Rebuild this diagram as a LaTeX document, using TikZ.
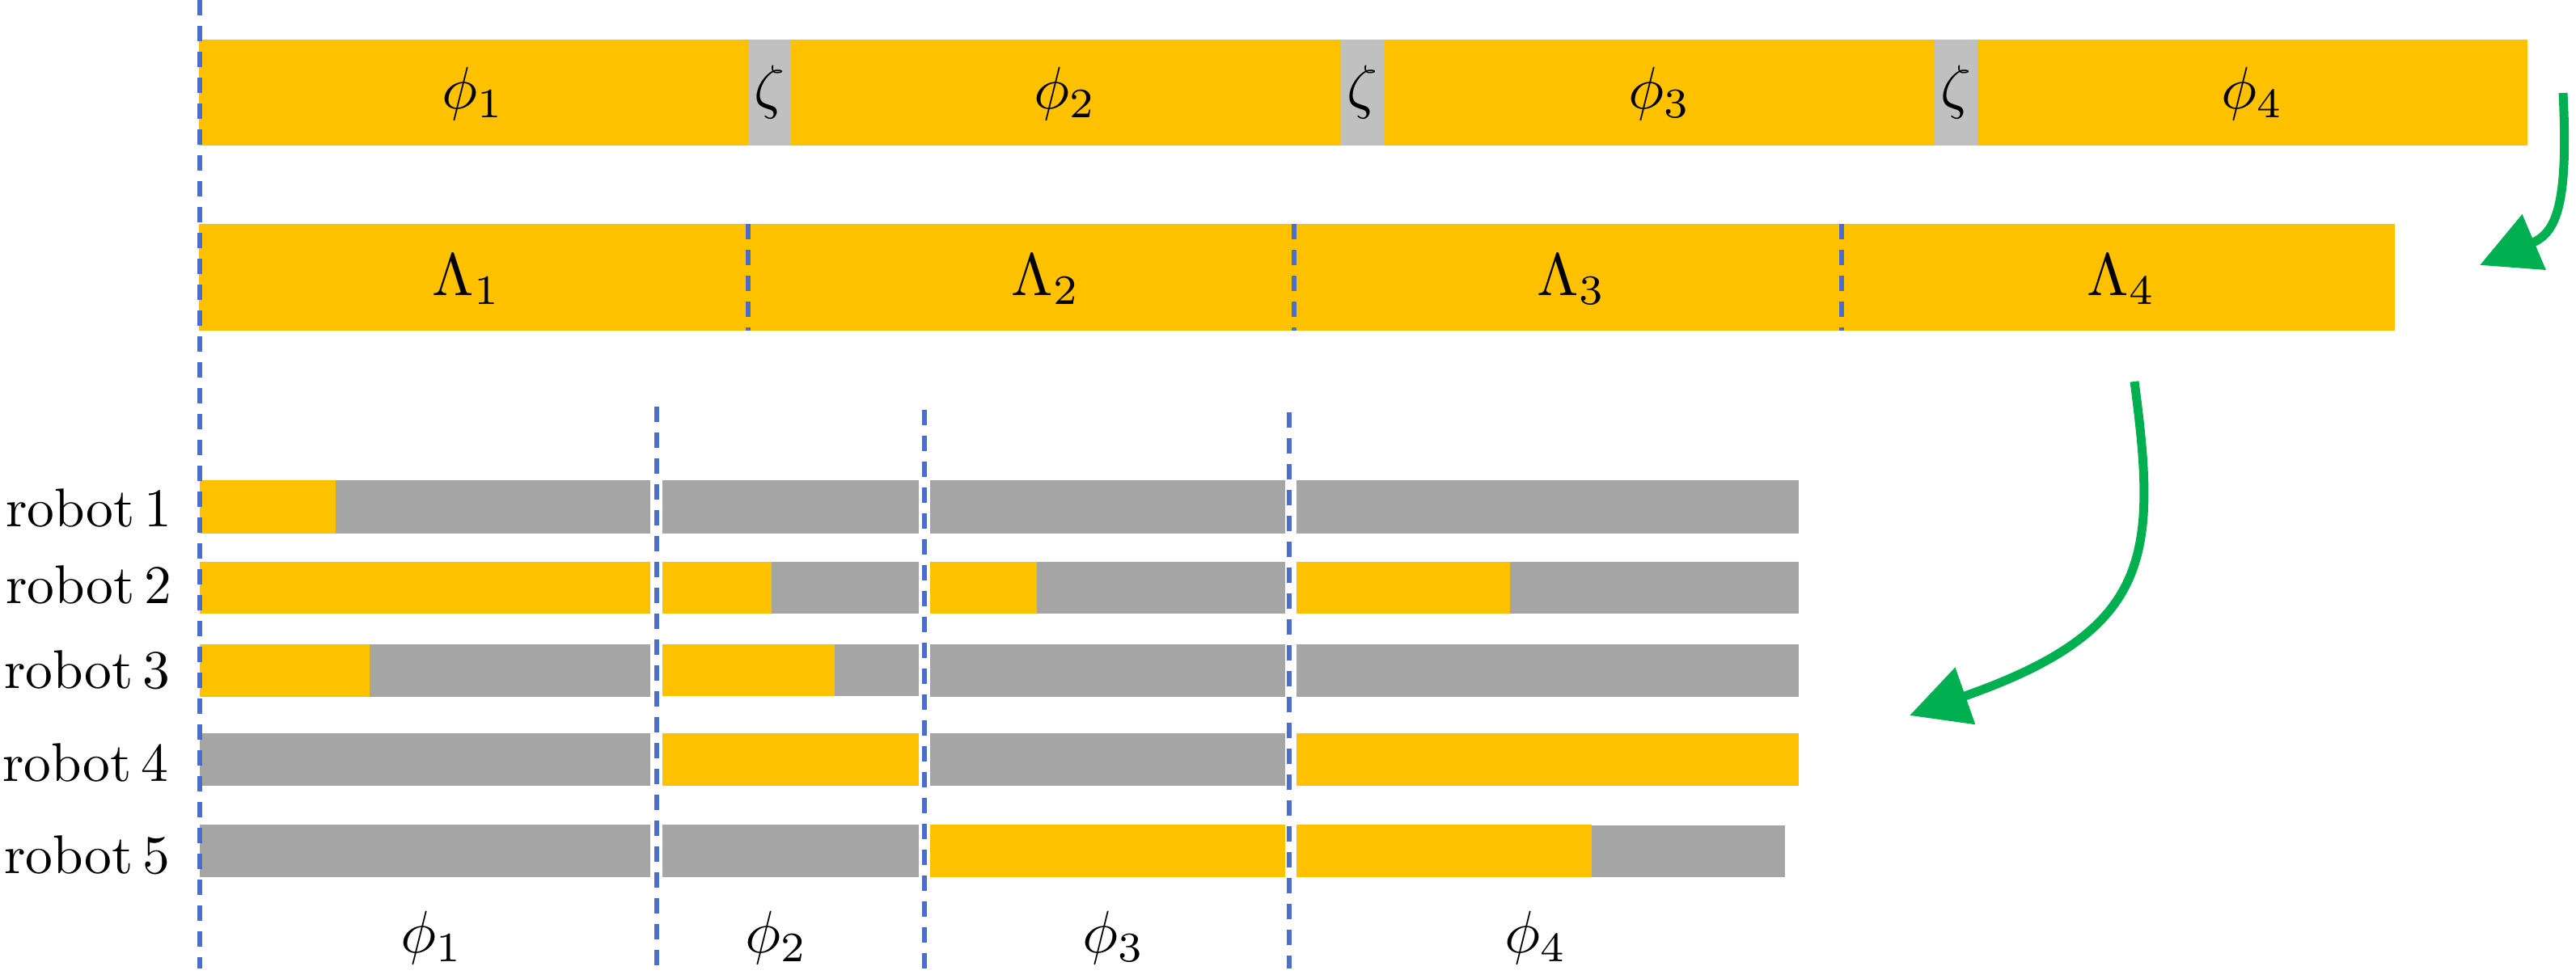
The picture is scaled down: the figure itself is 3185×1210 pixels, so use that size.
\documentclass[tikz,border=0pt]{standalone}
\usetikzlibrary{arrows.meta}
\definecolor{bary}{HTML}{FDC100}
\definecolor{barg}{HTML}{A5A5A5}
\definecolor{zetag}{HTML}{BFC0BF}
\definecolor{arrg}{HTML}{00B050}
\definecolor{dashb}{HTML}{4A6FCB}
\begin{document}
\begin{tikzpicture}[x=1pt,y=-1pt,
  ybar/.style={fill=bary,draw=none},
  gbar/.style={fill=barg,draw=none},
  zbar/.style={fill=zetag,draw=none},
  divider/.style={draw=dashb,line width=5.5pt,dash pattern=on 19pt off 13pt},
  flow/.style={draw=arrg,line width=11pt,-{Triangle[length=73pt,width=72pt]}},
  lbl/.style={inner sep=0pt,scale=7.4,transform shape},
  rlbl/.style={inner sep=0pt,anchor=base west,scale=6.75,transform shape}]
\useasboundingbox (0,0) rectangle (3185,1210);

% ---------- top bar: phases and transitions ----------
\fill[ybar] (246,49) rectangle (3125,180);
\fill[zbar] (925,49) rectangle (978,180);
\fill[zbar] (1657,49) rectangle (1712,180);
\fill[zbar] (2392,49) rectangle (2445,180);
\node[lbl] (tp1) at (585,116) {$\phi_1$};
\node[lbl] (tp2) at (1317,116) {$\phi_2$};
\node[lbl] (tp3) at (2052,116) {$\phi_3$};
\node[lbl] (tp4) at (2785,116) {$\phi_4$};
\node[lbl] (z1) at (951.5,114) {$\zeta$};
\node[lbl] (z2) at (1684.5,114) {$\zeta$};
\node[lbl] (z3) at (2418.5,114) {$\zeta$};

% ---------- Lambda bar ----------
\fill[ybar] (246,277) rectangle (2961,409);
\node[lbl] (L1) at (577,346) {$\Lambda_1$};
\node[lbl] (L2) at (1293,346) {$\Lambda_2$};
\node[lbl] (L3) at (1943,346) {$\Lambda_3$};
\node[lbl] (L4) at (2623,346) {$\Lambda_4$};

% ---------- robot bars ----------
% row 1
\fill[gbar] (247,594) rectangle (804,660);
\fill[ybar] (247,594) rectangle (415,660);
\fill[gbar] (819,594) rectangle (1136,660);
\fill[gbar] (1150,594) rectangle (1589,660);
\fill[gbar] (1603,594) rectangle (2224,660);
% row 2
\fill[ybar] (247,695) rectangle (804,759);
\fill[gbar] (819,695) rectangle (1136,759);
\fill[ybar] (819,695) rectangle (954,759);
\fill[gbar] (1150,695) rectangle (1589,759);
\fill[ybar] (1150,695) rectangle (1282,759);
\fill[gbar] (1603,695) rectangle (2224,759);
\fill[ybar] (1603,695) rectangle (1867,759);
% row 3
\fill[gbar] (247,797) rectangle (804,862);
\fill[ybar] (247,797) rectangle (457,862);
\fill[gbar] (819,797) rectangle (1136,861);
\fill[ybar] (819,797) rectangle (1032,861);
\fill[gbar] (1150,797) rectangle (1589,862);
\fill[gbar] (1603,797) rectangle (2224,862);
% row 4
\fill[gbar] (247,907) rectangle (804,972);
\fill[ybar] (819,907) rectangle (1136,972);
\fill[gbar] (1150,907) rectangle (1589,972);
\fill[ybar] (1603,907) rectangle (2224,972);
% row 5
\fill[gbar] (247,1020) rectangle (804,1085);
\fill[gbar] (819,1020) rectangle (1136,1085);
\fill[ybar] (1150,1020) rectangle (1589,1085);
\fill[gbar] (1603,1021) rectangle (2207,1085);
\fill[ybar] (1603,1020) rectangle (1968,1085);

\node[rlbl] (r1) at (6,651) {robot\,1};
\node[rlbl] (r2) at (6,746) {robot\,2};
\node[rlbl] (r3) at (4,851) {robot\,3};
\node[rlbl] (r4) at (2,966) {robot\,4};
\node[rlbl] (r5) at (4,1080) {robot\,5};

\node[lbl] (bp1) at (534,1160) {$\phi_1$};
\node[lbl] (bp2) at (960,1160) {$\phi_2$};
\node[lbl] (bp3) at (1377,1160) {$\phi_3$};
\node[lbl] (bp4) at (1899,1160) {$\phi_4$};

% ---------- dashed dividers ----------
\coordinate (d0a) at (247,0);    \coordinate (d0b) at (247,1198);
\coordinate (d1a) at (925,277);  \coordinate (d1b) at (925,409);
\coordinate (d2a) at (1600,277); \coordinate (d2b) at (1600,409);
\coordinate (d3a) at (2277,277); \coordinate (d3b) at (2277,409);
\coordinate (e1a) at (812,503);  \coordinate (e1b) at (812,1198);
\coordinate (e2a) at (1143,507); \coordinate (e2b) at (1143,1198);
\coordinate (e3a) at (1594,510); \coordinate (e3b) at (1594,1198);
\draw[divider] (d0a) -- (d0b);
\draw[divider] (d1a) -- (d1b);
\draw[divider] (d2a) -- (d2b);
\draw[divider] (d3a) -- (d3b);
\draw[divider] (e1a) -- (e1b);
\draw[divider] (e2a) -- (e2b);
\draw[divider] (e3a) -- (e3b);

% ---------- green arrows ----------
\coordinate (a1s) at (3169,115);
\coordinate (a1e) at (3066,328);
\coordinate (a2s) at (2639,472);
\coordinate (a2e) at (2361,885);
\draw[flow] (a1s) .. controls (3176,255) and (3160,288) .. (a1e);
\draw[flow] (a2s) .. controls (2668,690) and (2660,780) .. (a2e);
\end{tikzpicture}
\end{document}
